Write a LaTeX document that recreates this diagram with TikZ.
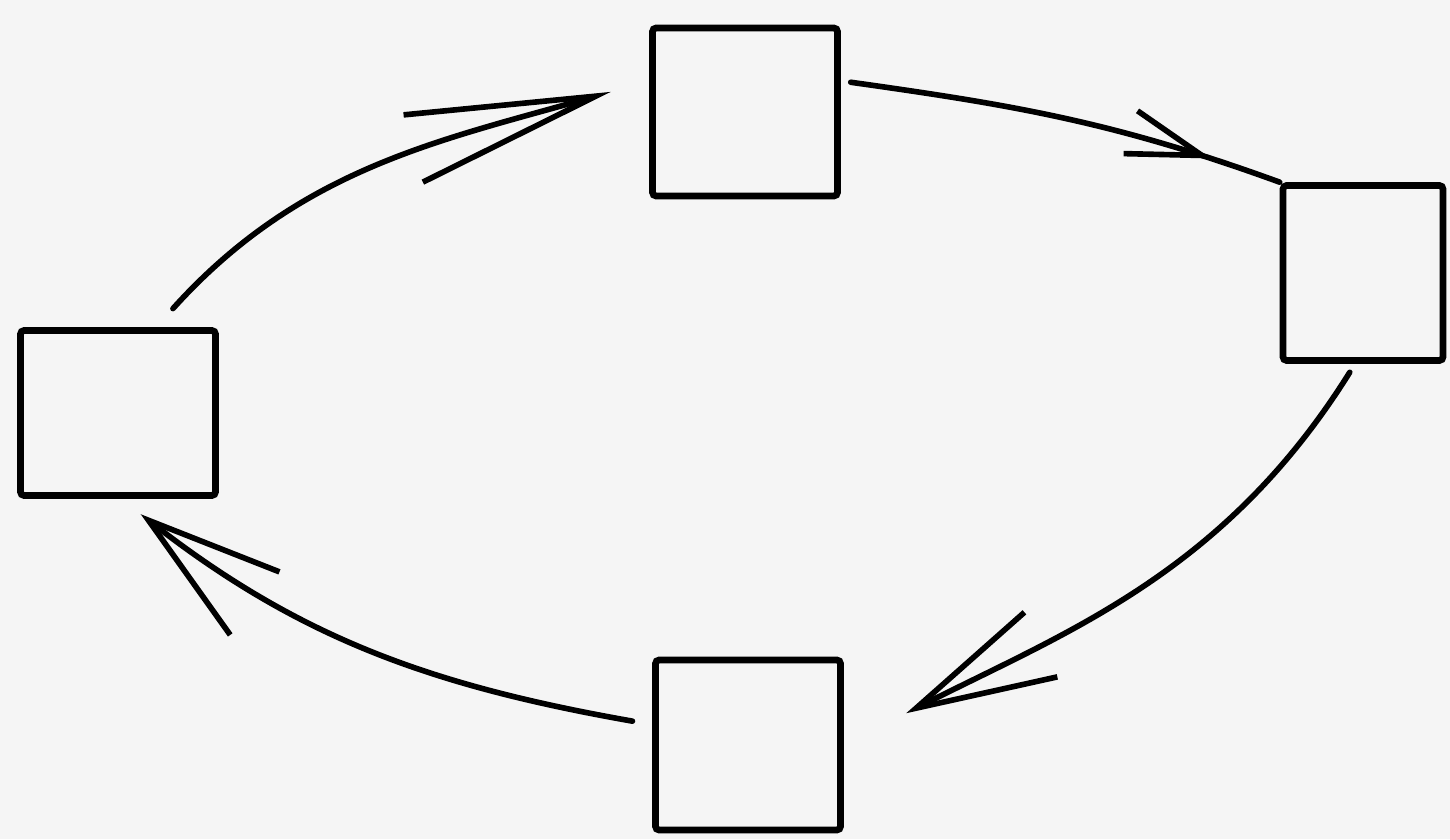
\documentclass[tikz,border=0pt]{standalone}
\usepackage{tikz}
\usetikzlibrary{arrows.meta, decorations.markings}
\usepackage{xcolor}
\definecolor{paper}{HTML}{F5F5F5}

\begin{document}
\begin{tikzpicture}[
    x=0.02cm, y=0.02cm,
    box/.style={
        rectangle, draw, line width=3.8pt, rounded corners=2pt,
        inner sep=0pt
    },
    flow/.style 2 args={
        -{Straight Barb[length=#1, width=#2]},
        line width=3.2pt, line cap=round, line join=round
    },
]

% ── Paper ────────────────────────────
\fill[paper] (0,0) rectangle (1450,839);
\useasboundingbox (0,0) rectangle (1450,839);

% ── Boxes ────────────────────────────
\node[box, minimum width=3.7cm, minimum height=3.36cm] (nTop) at (745,727) {};
\node[box, minimum width=3.2cm, minimum height=3.5cm] (nRight) at (1363,566) {};
\node[box, minimum width=3.7cm, minimum height=3.4cm] (nBottom) at (748,94) {};
\node[box, minimum width=3.9cm, minimum height=3.3cm] (nLeft) at (118,426) {};

% ── Cycle (clockwise) ────────────────
\draw[flow={3.8cm}{1.4cm}, shorten <=0.5cm, shorten >=0.8cm]
    (nLeft.66) to[out=48, in=196] (nTop.162);
\draw[line width=3.2pt, line cap=round, line join=round, shorten <=0.2cm,
    decoration={markings, mark=at position -1.45cm with
        {\arrow{Straight Barb[length=1.5cm, width=0.9cm]}}},
    postaction=decorate]
    (nTop.18) to[out=-8, in=160] (nRight.north west);
\draw[flow={2.8cm}{1.45cm}, shorten <=0.2cm, shorten >=1.4cm]
    (nRight.265) to[out=238, in=27] (nBottom.east);
\draw[flow={2.7cm}{1.6cm}, shorten <=0.4cm, shorten >=0.5cm]
    (nBottom.168) to[out=170, in=322] (nLeft.272);

\end{tikzpicture}
\end{document}
